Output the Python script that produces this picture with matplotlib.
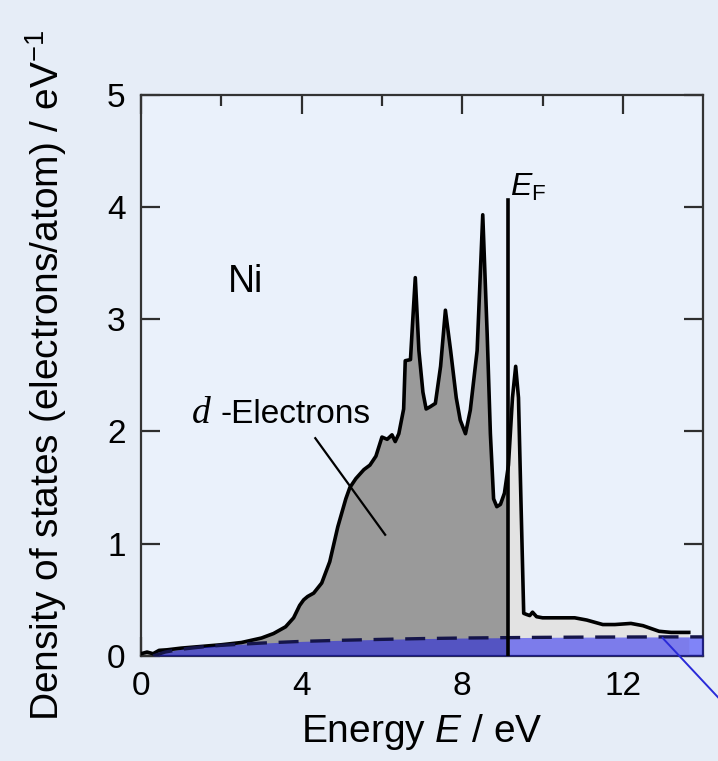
import numpy as np
import matplotlib
matplotlib.use("Agg")
import matplotlib.pyplot as plt

plt.rcParams['font.family'] = ['Liberation Sans', 'DejaVu Sans']
plt.rcParams['mathtext.fontset'] = 'custom'
plt.rcParams['mathtext.rm'] = 'Liberation Sans'
plt.rcParams['mathtext.it'] = 'Liberation Sans:italic'

# total density of states of Ni
energy = np.array([0.0, 0.15, 0.3, 0.45, 0.65, 1.0, 1.5, 2.0, 2.5, 3.0, 3.3, 3.6, 3.8,
                   3.95, 4.05, 4.15, 4.3, 4.5, 4.7, 4.9, 5.1, 5.2, 5.35, 5.55, 5.7,
                   5.85, 6.0, 6.13, 6.25, 6.33, 6.42, 6.54, 6.58, 6.71, 6.76, 6.83,
                   6.92, 7.02, 7.1, 7.2, 7.33, 7.46, 7.58, 7.71, 7.85, 7.95, 8.08,
                   8.2, 8.37, 8.51, 8.62, 8.7, 8.78, 8.86, 8.95, 9.05, 9.15, 9.25,
                   9.33, 9.4, 9.46, 9.53, 9.6, 9.68, 9.75, 9.85, 10.0, 10.8, 11.1,
                   11.5, 11.8, 12.2, 12.5, 12.9, 13.2, 13.64])
dos = np.array([0.02, 0.035, 0.02, 0.05, 0.055, 0.07, 0.085, 0.1, 0.12, 0.16, 0.2,
                0.26, 0.34, 0.45, 0.5, 0.53, 0.56, 0.65, 0.84, 1.15, 1.4, 1.5, 1.58,
                1.66, 1.7, 1.78, 1.95, 1.93, 1.97, 1.91, 1.98, 2.2, 2.63, 2.64, 2.95,
                3.37, 2.72, 2.35, 2.2, 2.22, 2.25, 2.58, 3.08, 2.72, 2.3, 2.1, 1.98,
                2.19, 2.72, 3.93, 2.87, 1.98, 1.4, 1.33, 1.35, 1.45, 1.7, 2.3, 2.58,
                2.3, 1.4, 0.38, 0.37, 0.36, 0.39, 0.35, 0.34, 0.34, 0.32, 0.28, 0.28,
                0.29, 0.27, 0.22, 0.21, 0.21])

# s-electron part (dashed)
energy_s = np.array([0.3, 0.6, 1.0, 1.5, 2.0, 2.5, 3.0, 4.0, 5.0, 6.0, 7.0, 8.0,
                     9.0, 10.0, 11.0, 12.0, 13.0, 14.0])
dos_s = np.array([0.0, 0.035, 0.06, 0.08, 0.095, 0.105, 0.115, 0.13, 0.14, 0.148,
                  0.155, 0.16, 0.163, 0.166, 0.168, 0.169, 0.17, 0.17])

e_fermi = 9.15
ef_top = 4.06

fig = plt.figure(figsize=(7.18, 7.61), dpi=100, facecolor='#e6edf7')
ax = fig.add_axes([0.1964, 0.138, 0.783, 0.7376])
ax.set_facecolor('#eaf1fb')

ax.fill_between(energy, dos, where=energy <= e_fermi, color='#9a9a9a', lw=0, zorder=2)
ax.fill_between(energy, dos, where=energy >= e_fermi, color='#e3e3e3', lw=0, zorder=2)
ax.plot(energy, dos, color='black', lw=2.6, zorder=3)

ax.fill_between(energy_s, dos_s, color=(0, 0, 0.96), alpha=0.45, lw=0, zorder=4)
ax.plot(energy_s, dos_s, color='#15154a', lw=2.4, ls=(0, (6, 3.5)), zorder=4)

ax.plot([e_fermi, e_fermi], [0, ef_top], color='black', lw=2.6, zorder=5)
ax.text(e_fermi + 0.04, 4.1, r'$E_{\mathrm{F}}$', fontsize=23, ha='left', va='baseline')

ax.text(2.17, 3.24, 'Ni', fontsize=27, ha='left', va='baseline')
ax.text(1.27, 2.075, 'd', fontsize=27, family='Liberation Serif', style='italic',
        ha='left', va='baseline')
ax.text(1.97, 2.075, '-Electrons', fontsize=24, ha='left', va='baseline')
ax.plot([4.34, 6.08], [1.94, 1.08], color='black', lw=1.6, zorder=6)

# pointer line leaving the frame
ax.plot([12.99, 14.4], [0.16, -0.38], color='#2a2ad8', lw=1.4, clip_on=False, zorder=6)

ax.set_xlim(0, 14)
ax.set_ylim(0, 5)
ax.set_xticks([0, 4, 8, 12])
ax.set_xticks([2, 6, 10], minor=True)
ax.set_yticks([0, 1, 2, 3, 4, 5])
ax.tick_params(which='both', direction='in', top=True, right=True, width=1.6,
               color='#2e2e2e', labelsize=24)
ax.tick_params(which='major', length=13.5)
ax.tick_params(which='minor', length=8)
ax.tick_params(axis='x', pad=11)
ax.tick_params(axis='y', pad=11)
for s in ax.spines.values():
    s.set_linewidth(1.6)
    s.set_color('#333333')

ax.set_xlabel(r'Energy $E$ / eV', fontsize=28)
ax.set_ylabel(r'Density of states (electrons/atom) / eV$^{-1}$', fontsize=28)
ax.xaxis.set_label_coords(0.5, -0.1)
ax.yaxis.set_label_coords(-0.128, 0.5)

fig.savefig('out.png', dpi=100, facecolor=fig.get_facecolor())
